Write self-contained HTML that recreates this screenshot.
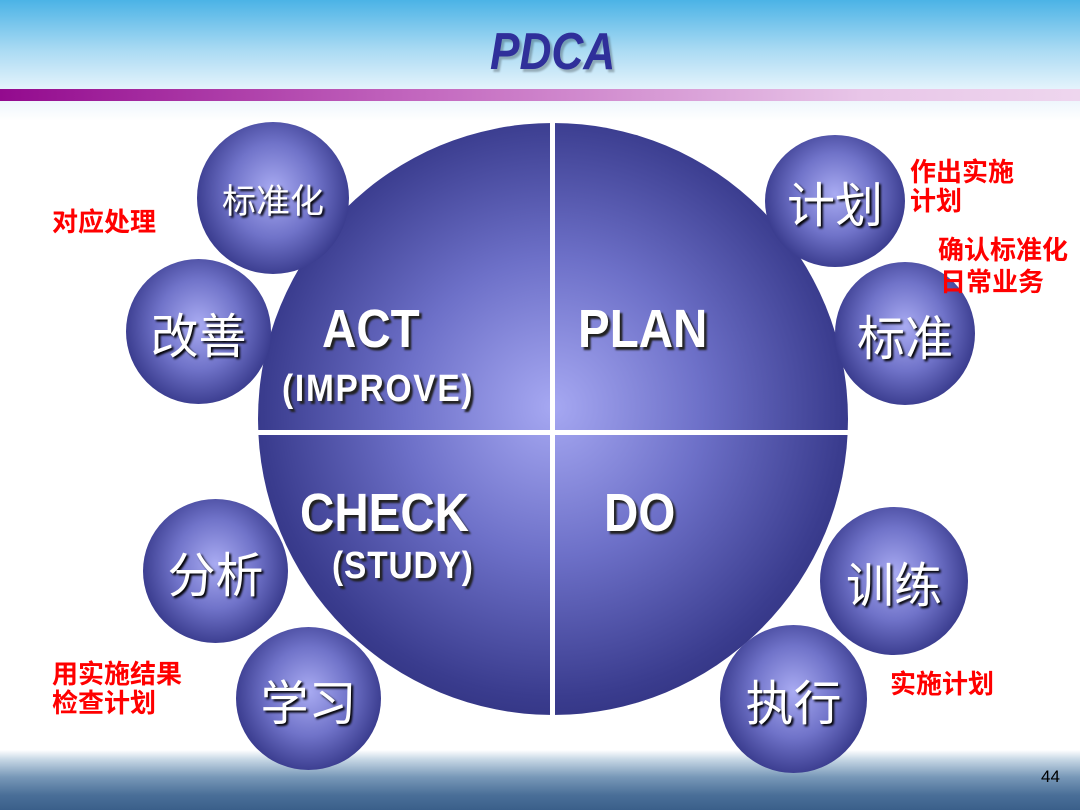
<!DOCTYPE html>
<html><head><meta charset="utf-8"><style>
body{margin:0;width:1080px;height:810px;position:relative;overflow:hidden;background:#fff;font-family:"Liberation Sans","Noto Sans CJK SC",sans-serif}
.top{position:absolute;left:0;top:0;width:1080px;height:90px;background:linear-gradient(#4bb3e6,#a9daf3 55%,#e6f4fc)}
.bar{position:absolute;left:0;top:89px;width:1080px;height:12px;background:linear-gradient(90deg,#930a8e,#c46ac0 40%,#e8c6e8 80%,#eed6ee)}
.under{position:absolute;left:0;top:101px;width:1080px;height:20px;background:linear-gradient(#eef6fc,#fff)}
.sea{position:absolute;left:0;top:750px;width:1080px;height:60px;background:linear-gradient(#fff,#c9d9e6 15%,#7898b8 45%,#4a6f98 75%,#3a5f8a)}
.title{position:absolute;left:490px;top:22px;font-size:52px;font-weight:bold;font-style:italic;color:#2f2f9a;transform:scaleX(.85);transform-origin:left;text-shadow:3px 3px 2px rgba(0,0,0,.25)}
.big{position:absolute;left:258px;top:123px;width:590px;height:592px;border-radius:50%;background:radial-gradient(circle at 50% 48%,#a6a8f2 0%,#6d70c8 35%,#3a3c8e 68%,#1a1a5e 100%)}
.vl{position:absolute;left:550px;top:123px;width:5px;height:592px;background:#fff}
.hl{position:absolute;left:258px;top:430px;width:590px;height:5px;background:#fff}
.s{position:absolute;border-radius:50%;background:radial-gradient(ellipse at 50% 45%,#a9abf2 0%,#7073c9 40%,#36388a 75%,#1d1d63 100%);color:#fff;display:flex;align-items:center;justify-content:center;text-shadow:2px 2px 2px #000}
.t{position:absolute;color:#fff;font-weight:bold;text-shadow:3px 3px 2px #222;white-space:nowrap;transform:scaleX(.88);transform-origin:left}
.r{position:absolute;color:#f00;font-weight:bold;font-size:26px;line-height:29px}
.n{position:absolute;left:1041px;top:767px;font-size:17px;color:#000}
</style></head><body>
<div class="top"></div><div class="bar"></div><div class="under"></div><div class="sea"></div>
<div class="title">PDCA</div>
<div class="big"></div><div class="vl"></div><div class="hl"></div>
<div class="t" style="left:322px;top:298px;font-size:54px">ACT</div>
<div class="t" style="left:282px;top:368px;font-size:38px;letter-spacing:2px">(IMPROVE)</div>
<div class="t" style="left:578px;top:298px;font-size:54px">PLAN</div>
<div class="t" style="left:300px;top:482px;font-size:54px">CHECK</div>
<div class="t" style="left:332px;top:545px;font-size:38px;letter-spacing:1px">(STUDY)</div>
<div class="t" style="left:604px;top:482px;font-size:54px">DO</div>
<div class="s" style="left:197px;top:122px;width:152px;height:152px;font-size:34px">标准化</div>
<div class="s" style="left:126px;top:259px;width:145px;height:145px;font-size:48px">改善</div>
<div class="s" style="left:765px;top:135px;width:140px;height:132px;font-size:48px">计划</div>
<div class="s" style="left:835px;top:262px;width:140px;height:143px;font-size:48px">标准</div>
<div class="s" style="left:143px;top:499px;width:145px;height:144px;font-size:48px">分析</div>
<div class="s" style="left:236px;top:627px;width:145px;height:143px;font-size:48px">学习</div>
<div class="s" style="left:820px;top:507px;width:148px;height:148px;font-size:48px">训练</div>
<div class="s" style="left:720px;top:625px;width:147px;height:148px;font-size:48px">执行</div>
<div class="r" style="left:52px;top:208px">对应处理</div>
<div class="r" style="left:910px;top:158px">作出实施<br>计划</div>
<div class="r" style="left:938px;top:236px">确认标准化</div>
<div class="r" style="left:940px;top:268px">日常业务</div>
<div class="r" style="left:52px;top:660px">用实施结果<br>检查计划</div>
<div class="r" style="left:890px;top:670px">实施计划</div>
<div class="n">44</div>
</body></html>
